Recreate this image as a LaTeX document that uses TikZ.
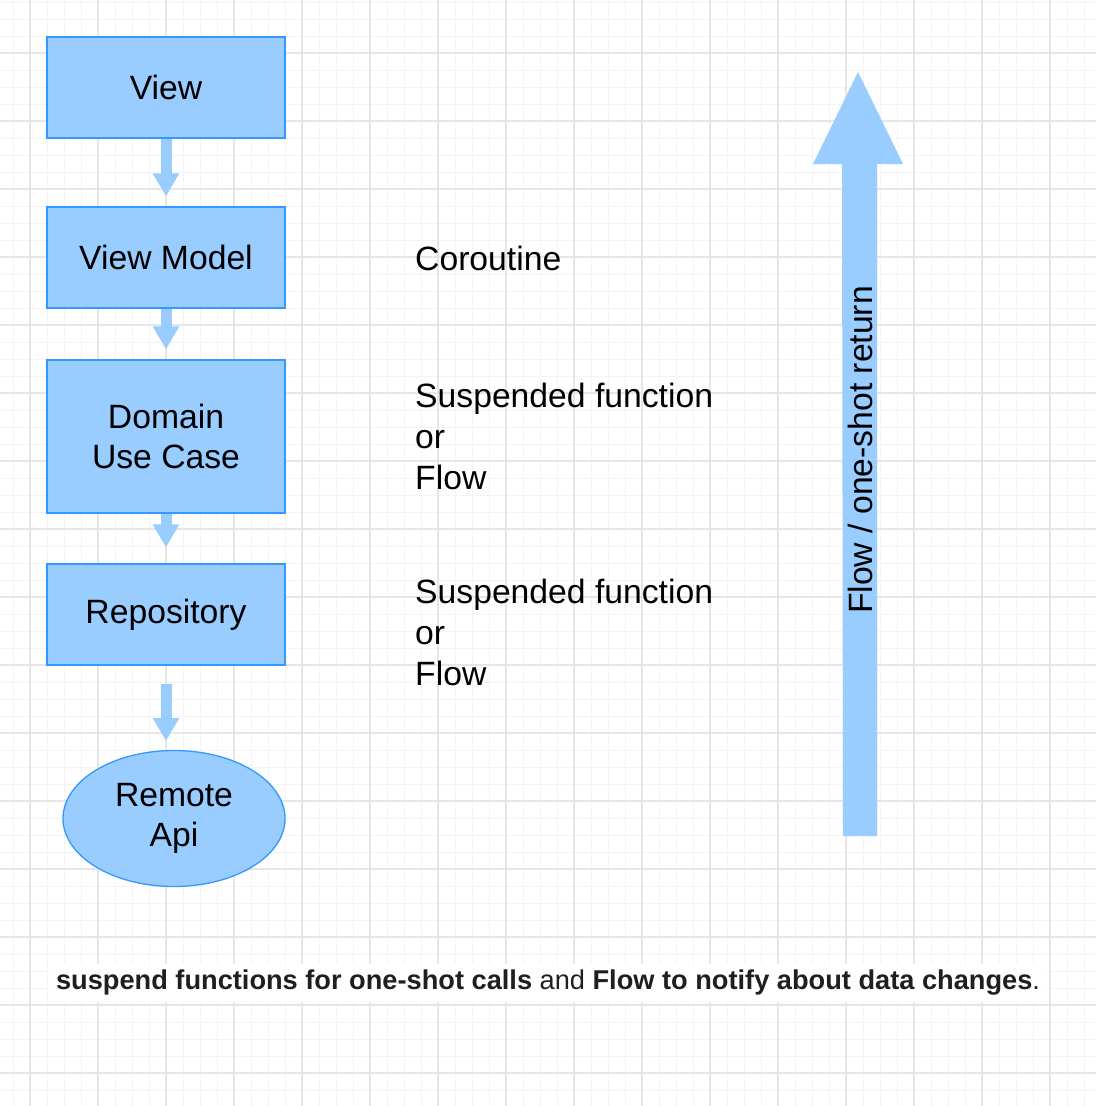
\documentclass[tikz,border=0pt]{standalone}
\usepackage{fontspec}
\setmainfont{Liberation Sans}
\usetikzlibrary{arrows.meta,shapes.geometric}
\definecolor{boxfill}{HTML}{99CCFF}
\definecolor{boxline}{HTML}{3399FF}
\definecolor{gridmajor}{HTML}{E6E6E6}
\definecolor{gridminor}{HTML}{F4F4F4}
\definecolor{notetext}{HTML}{1F1F1F}
\tikzset{
  layer/.style={draw=boxline, line width=1.3pt, fill=boxfill, inner sep=0pt,
    minimum width=238pt, align=center, font=\fontsize{33.7}{40}\selectfont},
  apinode/.style={ellipse, draw=boxline, line width=1.3pt, fill=boxfill, inner sep=0pt,
    minimum width=222pt, minimum height=136pt, align=center, font=\fontsize{33.7}{40}\selectfont},
  note/.style={inner sep=0pt, anchor=west, align=left, font=\fontsize{33.7}{41}\selectfont},
  flowarrow/.style={draw=boxfill, line width=11pt,
    -{Triangle[width=25pt,length=23pt]}, shorten >=10pt},
}
\begin{document}
\begin{tikzpicture}[x=1pt,y=-1pt]
\useasboundingbox (0,0) rectangle (1096,1106);
\fill[white] (0,0) rectangle (1096,1106);
% grid
\foreach \i in {0,...,65} {
  \draw[gridminor, line width=0.9pt] ({13+17*\i},0) -- ({13+17*\i},1106);
  \draw[gridminor, line width=0.9pt] (0,{2+17*\i}) -- (1096,{2+17*\i});
}
\foreach \i in {0,...,16} {
  \draw[gridmajor, line width=1.1pt] ({30+68*\i},0) -- ({30+68*\i},1106);
  \draw[gridmajor, line width=1.1pt] (0,{53+68*\i}) -- (1096,{53+68*\i});
}

% layers
\node[layer, minimum height=101pt] (view) at (166,87.5) {View};
\node[layer, minimum height=101pt] (vm) at (166,257.5) {View Model};
\node[layer, minimum height=153pt] (domain) at (166,436.5) {Domain\\Use Case};
\node[layer, minimum height=101pt] (repo) at (166,614.5) {Repository};
\node[apinode] (api) at (174,818.5) {Remote\\Api};

% connectors
\draw[flowarrow] (view.south) -- (vm.north);
\draw[flowarrow] (vm.south) -- (vm.south |- domain.north);
\draw[flowarrow, shorten >=16pt] (domain.south) -- (repo.north);
\coordinate (apitop) at (166,751);
\draw[flowarrow, shorten <=18pt] (repo.south) -- (apitop);

% notes
\node[note] (coroutine) at (415,258) {Coroutine};
\node[note] (susp1) at (415,436) {Suspended function\\or\\Flow};
\node[note] (susp2) at (415,632) {Suspended function\\or\\Flow};

% big upward arrow
\coordinate (bigbottom) at (860,836);
\coordinate (bigtip) at (858,72);
\fill[boxfill] (843,836) -- (877,836) -- (877,164) -- (903,164) -- (bigtip) -- (813,164) -- (842,164) -- cycle;
\node[rotate=90, inner sep=0pt, font=\fontsize{33.7}{40}\selectfont] (flowlabel) at (860,450) {Flow / one-shot return};

% bottom note
\node[fill=white, inner xsep=6pt, inner ysep=6pt, text=notetext, font=\fontsize{27.2}{32}\selectfont] (summary) at (548,983)
  {\textbf{suspend functions for one-shot calls} and \textbf{Flow to notify about data changes}.};
\end{tikzpicture}
\end{document}
